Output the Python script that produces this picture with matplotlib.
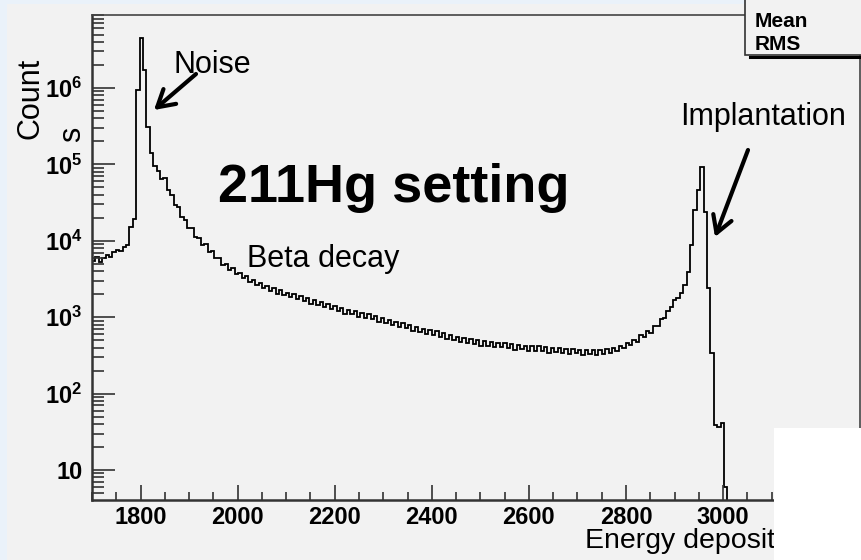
import numpy as np
import matplotlib
matplotlib.use('Agg')
import matplotlib.pyplot as plt
from matplotlib.patches import Rectangle
from matplotlib.lines import Line2D
from matplotlib.ticker import MultipleLocator, LogLocator, NullFormatter

plt.rcParams['font.family'] = ['Liberation Sans', 'DejaVu Sans']
plt.rcParams['mathtext.fontset'] = 'custom'
plt.rcParams['mathtext.rm'] = 'Liberation Sans:bold'
plt.rcParams['mathtext.bf'] = 'Liberation Sans:bold'
plt.rcParams['mathtext.default'] = 'bf'

#---- histogram data
bin_lo = 1700   # first bin edge
bin_width = 7   # energy per bin

# noise peak region (bins 0-18)
noise_counts = [5400, 6100, 5300, 5900, 6500, 6200, 7100, 7500, 7300, 8400,
                8900, 15000, 19000, 940000, 4500000, 1700000, 310000, 140000, 95000]

# beta decay continuum (bins 19-172)
beta_counts = [82000, 64400, 65400, 46200, 39800, 29800, 28000, 20500, 18700, 14700,
               14500, 11200, 10900, 8810, 9080, 7130, 7350, 5870, 5960, 4820,
               4910, 4090, 4340, 3620, 3840, 3220, 3460, 2860, 3110, 2640,
               2840, 2400, 2590, 2200, 2410, 2040, 2270, 1950, 2100, 1810,
               2010, 1730, 1920, 1630, 1780, 1490, 1680, 1445, 1580, 1340,
               1490, 1260, 1400, 1205, 1320, 1100, 1242, 1085, 1190, 1012,
               1135, 976, 1085, 933, 1022, 865, 976, 848, 925, 786,
               873, 751, 838, 711, 784, 656, 744, 640, 705, 603,
               676, 585, 650, 558, 614, 515, 585, 506, 558, 476,
               531, 460, 518, 446, 498, 422, 485, 423, 474, 407,
               461, 405, 458, 395, 441, 376, 433, 379, 424, 366,
               416, 365, 415, 360, 404, 344, 396, 349, 391, 339,
               386, 329, 387, 336, 377, 323, 373, 325, 372, 320,
               372, 333, 380, 335, 395, 361, 420, 390, 460, 427,
               508, 474, 576, 551, 660, 630, 774, 755, 947, 976,
               1220, 1360, 1680, 1780]

# implantation peak (bins 173-186)
implant_counts = [2070, 2640, 3910, 8810, 25300, 46200, 92500, 23800, 2410, 340,
                  39, 36, 41, 6]

counts = np.array(noise_counts + beta_counts + implant_counts, dtype=float)
edges = bin_lo + bin_width * np.arange(len(counts) + 1)

xticks = [1800, 2000, 2200, 2400, 2600, 2800, 3000, 3200]
yticks = [10, 1e2, 1e3, 1e4, 1e5, 1e6]
ytick_labels = ['10', r'$10^{2}$', r'$10^{3}$', r'$10^{4}$', r'$10^{5}$', r'$10^{6}$']

#---- figure in pixel units
W, H = 861, 560
def fx(x):
    return x / W
def fy(y):
    return 1 - y / H

fig = plt.figure(figsize=(W / 100, H / 100), dpi=100)
fig.patch.set_facecolor('#eaf2fa')
fig.add_artist(Rectangle((fx(7), 0), 1, fy(4), transform=fig.transFigure,
                         facecolor='#f2f2f2', edgecolor='none', zorder=-10))

ax = fig.add_axes([fx(92), fy(500), (860 - 92) / W, (500 - 15) / H])
ax.set_facecolor('#f2f2f2')

ax.stairs(counts, edges, baseline=1, color='black', lw=1.3)

ax.set_xlim(1700, 3282)
ax.set_yscale('log')
ax.set_ylim(4.05, 9.0e6)

ax.set_xticks(xticks, [str(t) for t in xticks], fontweight='bold')
ax.xaxis.set_minor_locator(MultipleLocator(50))
ax.set_yticks(yticks, ytick_labels, fontweight='bold')
ax.yaxis.set_minor_locator(LogLocator(base=10, subs=np.arange(2, 10), numticks=20))
ax.yaxis.set_minor_formatter(NullFormatter())

ax.tick_params(axis='both', which='both', direction='in', top=False, right=False,
               color='#333333', width=1.2)
ax.tick_params(axis='x', which='major', length=10.8, labelsize=17, pad=4)
ax.tick_params(axis='x', which='minor', length=5.8)
ax.tick_params(axis='y', which='major', length=16.5, labelsize=17, pad=7)
ax.tick_params(axis='y', which='minor', length=8.6)

for side in ['left', 'bottom']:
    ax.spines[side].set_linewidth(1.8)
    ax.spines[side].set_color('#333333')
for side in ['top', 'right']:
    ax.spines[side].set_linewidth(1.2)
    ax.spines[side].set_color('#444444')

# axis titles
fig.text(fx(31), fy(98), 'Count', rotation=90, fontsize=22, ha='center', va='center')
fig.text(fx(72), fy(134), 's', rotation=90, fontsize=22, ha='center', va='center')
fig.text(fx(585), fy(548), 'Energy deposit', fontsize=20.5, ha='left', va='baseline')

# annotations
fig.text(fx(173), fy(73), 'Noise', fontsize=22, ha='left', va='baseline')
fig.text(fx(218), fy(202), '211Hg setting', fontsize=39, fontweight='bold',
         ha='left', va='baseline')
fig.text(fx(247), fy(267), 'Beta decay', fontsize=22, ha='left', va='baseline')
fig.text(fx(680), fy(125), 'Implantation', fontsize=22, ha='left', va='baseline')

arrow_kw = dict(arrowstyle='->,head_length=1.2,head_width=0.7', lw=3, color='black',
                mutation_scale=10, shrinkA=0, shrinkB=0)
ax.annotate('', xy=(fx(154), fy(110)), xycoords='figure fraction',
            xytext=(fx(196), fy(74)), textcoords='figure fraction', arrowprops=arrow_kw)
ax.annotate('', xy=(fx(715), fy(237)), xycoords='figure fraction',
            xytext=(fx(748), fy(150)), textcoords='figure fraction', arrowprops=arrow_kw)

# stats box (top right)
fig.add_artist(Rectangle((fx(745), fy(55)), (870 - 745) / W, 60 / H, transform=fig.transFigure,
                         facecolor='#f2f2f2', edgecolor='#333333', lw=1.2, zorder=5))
fig.add_artist(Line2D([fx(750), 1.0], [fy(57), fy(57)], transform=fig.transFigure,
                      color='black', lw=2.2, zorder=5))
fig.text(fx(755), fy(27), 'Mean', fontsize=15, fontweight='bold', zorder=6)
fig.text(fx(755), fy(50), 'RMS', fontsize=15, fontweight='bold', zorder=6)

# white block covering the lower right corner
fig.add_artist(Rectangle((fx(774), 0), 1, (560 - 428) / H, transform=fig.transFigure,
                         facecolor='white', edgecolor='none', zorder=20))

fig.savefig('out.png', dpi=100, facecolor=fig.get_facecolor())
